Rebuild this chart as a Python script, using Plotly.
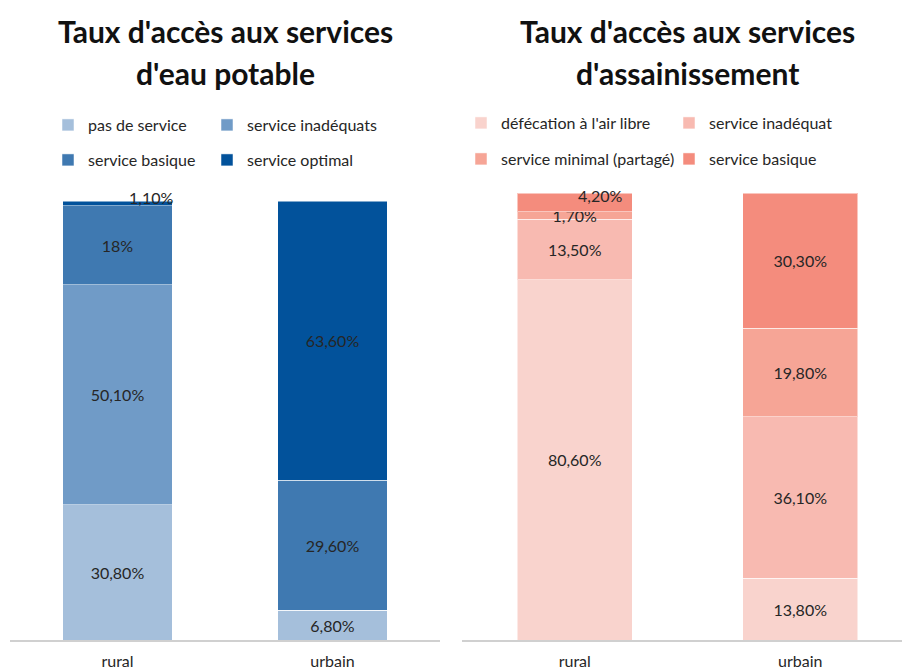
import plotly.graph_objects as go

# ---------------- data ----------------
categories = ["rural", "urbain"]

eau_series = ["pas de service", "service inadéquats", "service basique", "service optimal"]
eau_values = {
    "pas de service": [30.8, 6.8],
    "service inadéquats": [50.1, 0.0],
    "service basique": [18.0, 29.6],
    "service optimal": [1.1, 63.6],
}
eau_labels = {
    "pas de service": ["30,80%", "6,80%"],
    "service inadéquats": ["50,10%", ""],
    "service basique": ["18%", "29,60%"],
    "service optimal": ["", "63,60%"],
}
eau_colors = ["#A5BFDB", "#709BC7", "#3F79B1", "#02529B"]

ass_series = ["défécation à l'air libre", "service inadéquat", "service minimal (partagé)", "service basique"]
ass_values = {
    "défécation à l'air libre": [80.6, 13.8],
    "service inadéquat": [13.5, 36.1],
    "service minimal (partagé)": [1.7, 19.8],
    "service basique": [4.2, 30.3],
}
ass_labels = {
    "défécation à l'air libre": ["80,60%", "13,80%"],
    "service inadéquat": ["13,50%", "36,10%"],
    "service minimal (partagé)": ["1,70%", "19,80%"],
    "service basique": ["", "30,30%"],
}
ass_colors = ["#F9D3CD", "#F8BAB1", "#F6A596", "#F48C7D"]

# small labels drawn beside the top of the rural bars
eau_top_label = ("rural", "1,10%")
ass_top_label = ("rural", "4,20%")

titles_left = ["Taux d'accès aux services", "d'eau potable"]
titles_right = ["Taux d'accès aux services", "d'assainissement"]

FONT = "Lato, 'Open Sans', Arial, sans-serif"
W, H = 902, 671
LBL = 16

# legend placement (text start x, row centre y) in pixels, one legend per entry
eau_leg_pos = [(88, 125), (247, 125), (88, 160), (247, 160)]
ass_leg_pos = [(501, 123), (709, 123), (501, 159), (709, 159)]

fig = go.Figure()
legends_layout = {}

def leg_cfg(px, py):
    return dict(x=(px - 40) / W, y=1 - py / H, orientation="h", xanchor="left", yanchor="middle",
                font=dict(size=16, color="#262626", family=FONT),
                bgcolor="rgba(0,0,0,0)", borderwidth=0, itemclick=False, itemdoubleclick=False)

for i, s in enumerate(eau_series):
    lname = "legend" if i == 0 else f"legend{i + 1}"
    legends_layout[lname] = leg_cfg(*eau_leg_pos[i])
    fig.add_trace(go.Bar(
        x=categories, y=eau_values[s], name=s,
        marker=dict(color=eau_colors[i], line=dict(color="rgba(255,255,255,0.5)", width=1)),
        text=eau_labels[s], textposition="inside", insidetextanchor="middle",
        constraintext="none", textangle=0,
        textfont=dict(size=LBL, color="#262626", family=FONT),
        width=0.51, xaxis="x", yaxis="y", legend=lname,
        hoverinfo="skip",
    ))

for i, s in enumerate(ass_series):
    lname = f"legend{i + 5}"
    legends_layout[lname] = leg_cfg(*ass_leg_pos[i])
    fig.add_trace(go.Bar(
        x=categories, y=ass_values[s], name=s,
        marker=dict(color=ass_colors[i], line=dict(color="rgba(255,255,255,0.5)", width=1)),
        text=ass_labels[s], textposition="inside", insidetextanchor="middle",
        constraintext="none", textangle=0,
        textfont=dict(size=LBL, color="#262626", family=FONT),
        width=0.51, xaxis="x2", yaxis="y2", legend=lname,
        hoverinfo="skip",
    ))

annotations = []
eau_total_rural = sum(eau_values[s][0] for s in eau_series)
ass_total_rural = sum(ass_values[s][0] for s in ass_series)
annotations.append(dict(x=eau_top_label[0], y=eau_total_rural, xref="x", yref="y",
                        text=eau_top_label[1], showarrow=False, xshift=33, yshift=4,
                        font=dict(size=LBL, color="#262626", family=FONT)))
annotations.append(dict(x=ass_top_label[0], y=ass_total_rural, xref="x2", yref="y2",
                        text=ass_top_label[1], showarrow=False, xshift=25, yshift=-2,
                        font=dict(size=LBL, color="#262626", family=FONT)))

for t, xc, yc in [(titles_left[0], 225, 31), (titles_left[1], 225, 73),
                  (titles_right[0], 687, 31), (titles_right[1], 687, 73)]:
    annotations.append(dict(x=xc / W, y=1 - yc / H, xref="paper", yref="paper",
                            text=t, showarrow=False, xanchor="center", yanchor="middle",
                            font=dict(size=30, color="#111111", family=FONT, weight="bold")))

fig.update_layout(
    template="none",
    width=W, height=H,
    margin=dict(l=0, r=0, t=0, b=0, autoexpand=False),
    paper_bgcolor="white", plot_bgcolor="white",
    barmode="stack",
    showlegend=True,
    font=dict(family=FONT),
    xaxis=dict(domain=[10 / W, 440 / W], range=[-0.5, 1.5], showgrid=False, zeroline=False,
               showline=True, linecolor="#D0D0D0", linewidth=1.5, ticks="", automargin=False,
               tickfont=dict(size=16, color="#262626", family=FONT), ticklabelstandoff=6),
    yaxis=dict(domain=[(H - 640) / H, (H - 201) / H], range=[0, 100], visible=False,
               automargin=False),
    xaxis2=dict(domain=[462 / W, 1.0], range=[-0.5, 1.451], showgrid=False, zeroline=False,
                showline=True, linecolor="#D0D0D0", linewidth=1.5, ticks="", automargin=False,
                tickfont=dict(size=16, color="#262626", family=FONT), ticklabelstandoff=6),
    yaxis2=dict(domain=[(H - 640) / H, (H - 193) / H], range=[0, 100], visible=False,
                automargin=False),
    annotations=annotations,
    **legends_layout,
)

fig.write_html("out.html", config={"displayModeBar": False},
               post_script="document.body.style.margin='0';")
